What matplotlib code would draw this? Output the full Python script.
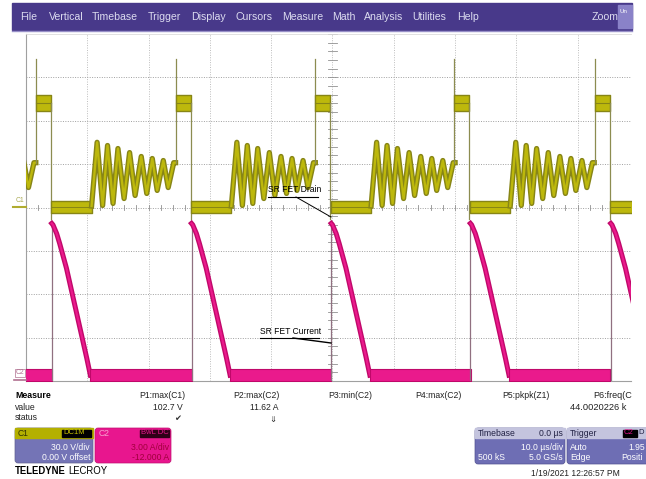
import matplotlib
matplotlib.use("Agg")
import matplotlib.pyplot as plt
import numpy as np
from matplotlib import font_manager
from matplotlib.patches import Rectangle, FancyBboxPatch

W, H = 646, 479

# --- data (time in us, 10 us/div) ---
spike_times = [-21.2, 1.6, 24.4, 47.2, 69.9, 92.8]

# C1: SR FET drain voltage (V), times relative to each turn-off spike
c1_spike_peak = 102.7
c1_ring_start = 31.0
c1_high = 72.5
c1_high_end = 2.45
c1_low = 0.3
c1_dip = -8.0
c1_ring_t = [9.1, 10.0, 10.9, 11.7, 12.6, 13.4, 14.4, 15.3, 16.2, 17.2, 18.1,
             19.0, 19.8, 20.8, 21.6, 22.5, 22.8]
c1_ring_v = [1.0, 45.1, 1.4, 42.9, 2.8, 40.8, 6.2, 38.0, 8.3, 35.3, 9.7,
             33.9, 11.8, 32.5, 13.8, 31.0, 31.0]

# C2: SR FET current (A)
c2_t = [2.6, 2.8, 3.4, 3.9, 5.0, 6.6, 8.3, 8.9]
c2_i = [10.9, 10.8, 10.2, 9.5, 7.8, 4.8, 1.6, 0.4]
c2_floor = 0.8
period = 22.8

volts_div = 30.0
amps_div = 3.0
amps_offset = -12.0

menu_items = ["File", "Vertical", "Timebase", "Trigger", "Display", "Cursors",
              "Measure", "Math", "Analysis", "Utilities", "Help"]
measure_names = ["P1:max(C1)", "P2:max(C2)", "P3:min(C2)", "P4:max(C2)",
                 "P5:pkpk(Z1)", "P6:freq(C"]
measure_values = ["102.7 V", "11.62 A", "", "", "", "44.0020226 k"]
measure_status = ["\u2714", "\u21d3", "", "", "", ""]

names = {f.name for f in font_manager.fontManager.ttflist}
if "Liberation Sans Narrow" in names:
    nf, k = "Liberation Sans Narrow", 1.0
else:
    nf, k = "Liberation Sans", 0.88

fig = plt.figure(figsize=(W / 100, H / 100), dpi=100)
fig.patch.set_facecolor("white")

# scope graticule
ax = fig.add_axes([26 / W, 1 - 381 / H, 605 / W, 347 / H])
ax.set_xlim(0, 98.7)
ax.set_ylim(-4, 4)
ax.set_facecolor("white")
ax.set_xticks([])
ax.set_yticks([])
for s in ["left", "bottom"]:
    ax.spines[s].set_color("#a0a0a0")
    ax.spines[s].set_linewidth(0.8)
ax.spines["right"].set_visible(False)
ax.spines["top"].set_color("#dcdcdc")
ax.spines["top"].set_linewidth(0.6)
for i in range(1, 10):
    ax.axvline(i * 10, color="#bdbdbd", lw=0.7, ls=(0, (1, 1.5)), zorder=1)
for j in range(-3, 4):
    ax.axhline(j, color="#a0a0a0", lw=0.7, ls=(0, (1, 1.5)), zorder=1)
# centre-line ticks
for t in np.arange(0, 99, 2.0):
    ax.plot([t, t], [-0.05, 0.05], color="#909090", lw=0.6, zorder=1)
for v in np.arange(-4, 4.01, 0.2):
    ax.plot([49.3, 50.7], [v, v], color="#909090", lw=0.6, zorder=1)


def c1(v):
    return np.asarray(v) / volts_div


def c2(i):
    return (np.asarray(i) + amps_offset) / amps_div


olive_dark = "#878516"
olive = "#bdb80c"
mag_dark = "#c0086a"
mag = "#ea1a8c"

for t0 in spike_times:
    # C1 drain voltage
    ax.plot([t0, t0], c1([c1_ring_start, c1_spike_peak]), color="#8c8c50", lw=0.9, zorder=3)
    ax.fill_between([t0, t0 + c1_high_end], c1(c1_high - 5.5), c1(c1_high + 5.5),
                    color=olive, edgecolor=olive_dark, lw=1.0, zorder=3)
    ax.plot([t0, t0 + c1_high_end], c1([c1_high, c1_high]), color=olive_dark, lw=0.8, zorder=3)
    ax.plot([t0 + c1_high_end] * 2, c1([c1_high, c1_dip]), color="#8c8c50", lw=0.9, zorder=3)
    ax.fill_between([t0 + c1_high_end + 0.1, t0 + c1_ring_t[0]], c1(c1_low - 4), c1(c1_low + 4),
                    color=olive, edgecolor=olive_dark, lw=1.0, zorder=3)
    ax.plot([t0 + c1_high_end + 0.1, t0 + c1_ring_t[0]], c1([c1_low, c1_low]),
            color=olive_dark, lw=0.7, zorder=3)
    rt = t0 + np.array(c1_ring_t)
    ax.plot(rt, c1(c1_ring_v), color=olive_dark, lw=3.8, solid_joinstyle="round", zorder=3)
    ax.plot(rt, c1(c1_ring_v), color=olive, lw=1.7, solid_joinstyle="round", zorder=3)

    # C2 current
    ax.plot([t0 + c2_t[0]] * 2, c2([0, c2_i[0]]), color="#907080", lw=0.9, zorder=4)
    pt = t0 + np.array(c2_t)
    ax.plot(pt, c2(c2_i), color=mag_dark, lw=3.6, solid_joinstyle="round", zorder=4)
    ax.plot(pt, c2(c2_i), color=mag, lw=1.6, solid_joinstyle="round", zorder=4)
    ax.fill_between([t0 + c2_t[-1], t0 + period + c2_t[0]], c2(0), c2(c2_floor),
                    color=mag, edgecolor=mag_dark, lw=0.8, zorder=4)

# overlay in pixel coordinates for the scope UI
ov = fig.add_axes([0, 0, 1, 1], zorder=5)
ov.set_xlim(0, W)
ov.set_ylim(H, 0)
ov.set_axis_off()


def txt(x, y, s, size=7.1, **kw):
    kw.setdefault("family", nf)
    kw.setdefault("va", "center")
    ov.text(x, y, s, fontsize=size * (k if kw["family"] == nf else 1.0), **kw)


# menu bar
ov.add_patch(Rectangle((12, 3), 620, 27, color="#48398a"))
ov.plot([12, 632], [30.5, 30.5], color="#9890c8", lw=1)
menu_x = [20, 49, 92, 148, 191, 235, 282, 332, 364, 412, 457]
for name, x in zip(menu_items, menu_x):
    txt(x, 17, name, size=8.6, color="#dcdcf0")
txt(592, 17, "Zoom", size=8.6, color="#dcdcf0")
ov.add_patch(Rectangle((618, 5), 14, 23, color="#8a82c8"))
txt(620, 11, "Un", size=5, color="white")

# trace labels
ov.plot([268, 318], [197, 197], color="black", lw=0.8)
ov.plot([296, 331], [197, 217], color="black", lw=0.7)
txt(268, 190, "SR FET Drain", size=7, color="black")
ov.plot([260, 319], [338, 338], color="black", lw=0.8)
ov.plot([293, 331], [338, 343], color="black", lw=1.0)
txt(260, 331, "SR FET Current", size=7, color="black")

# channel ground markers
txt(16, 200, "C1", size=5.5, color="#a8a850")
ov.plot([13, 26], [207, 207], color="#b0ac30", lw=1.5)
txt(16, 373, "C2", size=5.5, color="#b07090",
    bbox=dict(boxstyle="square,pad=0.1", fc="none", ec="#b07090", lw=0.5))
ov.plot([14, 26], [380, 380], color="#b07090", lw=1.2)

# measurement table
txt(15, 396, "Measure", size=7.2, family="Liberation Sans", weight="bold", color="black")
txt(15, 407, "value", color="#222222")
txt(15, 418, "status", color="#222222")
col_right = [185, 280, 372, 462, 550]
for i, name in enumerate(measure_names):
    if i < 5:
        txt(col_right[i], 396, name, ha="right", color="#222222")
        if measure_values[i]:
            txt(col_right[i] - 2, 407, measure_values[i], ha="right", color="#222222")
        if measure_status[i]:
            txt(col_right[i] - 4, 419, measure_status[i], size=6, family="DejaVu Sans",
                ha="right", color="#333333")
    else:
        txt(593, 396, name, size=7.4, family="Liberation Sans", color="#222222")
        txt(570, 408, measure_values[i], size=7.6, family="Liberation Sans", color="#222222")

# channel descriptor boxes
ov.add_patch(FancyBboxPatch((15, 428), 78, 35, boxstyle="round,pad=0,rounding_size=3",
                            fc="#7474b6", ec="#606090", lw=0.5))
ov.add_patch(Rectangle((15.3, 428.3), 77.4, 10, color="#b4b000"))
txt(18, 433, "C1", color="#333300")
ov.add_patch(Rectangle((62, 429.5), 29, 7.5, color="black"))
txt(63.5, 433, "DC1M", size=6.2, color="#c8c400")
txt(90, 447, "30.0 V/div", ha="right", color="white")
txt(90, 457, "0.00 V offset", ha="right", color="white")

ov.add_patch(FancyBboxPatch((95, 428), 76, 35, boxstyle="round,pad=0,rounding_size=3",
                            fc="#e8168e", ec="#c01070", lw=0.5))
txt(99, 433, "C2", color="#f8a0d0")
ov.add_patch(Rectangle((140, 429.5), 29, 7.5, color="#300018"))
txt(141, 433, "BwL DC", size=6.2, color="#e8168e")
txt(169, 447, "3.00 A/div", ha="right", color="#a0003c")
txt(169, 457, "-12.000 A", ha="right", color="#a0003c")

txt(15, 471, "TELEDYNE", size=7.8, family="Liberation Sans", weight="bold", color="black")
txt(68, 471, "LECROY", size=7.8, family="Liberation Sans", color="black")

# timebase / trigger boxes
ov.add_patch(FancyBboxPatch((475, 428), 90, 36, boxstyle="round,pad=0,rounding_size=3",
                            fc="#6e6eb4", ec="#505090", lw=0.5))
ov.add_patch(Rectangle((475.3, 428.3), 89.4, 10, color="#c4c4de"))
txt(478, 433, "Timebase", color="#222244")
txt(563, 433, "0.0 \u00b5s", ha="right", color="#222244")
txt(563, 447, "10.0 \u00b5s/div", ha="right", color="white")
txt(478, 457, "500 kS", color="white")
txt(563, 457, "5.0 GS/s", ha="right", color="white")

ov.add_patch(FancyBboxPatch((567, 428), 90, 36, boxstyle="round,pad=0,rounding_size=3",
                            fc="#6e6eb4", ec="#505090", lw=0.5))
ov.add_patch(Rectangle((567.3, 428.3), 89.4, 10, color="#c4c4de"))
txt(570, 433, "Trigger", color="#222244")
ov.add_patch(Rectangle((623, 429.5), 14, 7.5, color="black"))
txt(624, 433, "C2", size=6.2, color="#e8168e")
txt(638.5, 433, "D", size=6.2, color="#222244")
txt(570, 447, "Auto", color="white")
txt(628, 447, "1.95", color="white")
txt(570, 457, "Edge", color="white")
txt(621, 457, "Positi", color="white")

txt(531, 473, "1/19/2021 12:26:57 PM", size=7.0, family="Liberation Sans", color="#222222")

fig.savefig("out.png", dpi=100)
